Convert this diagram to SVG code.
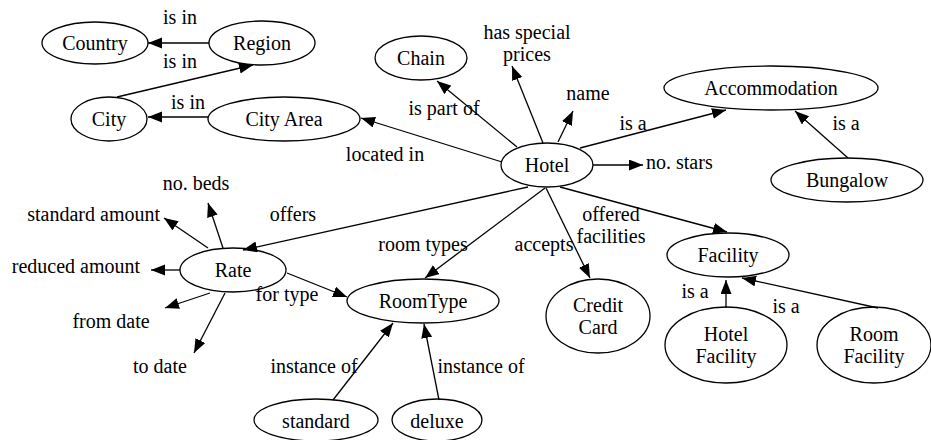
<svg xmlns="http://www.w3.org/2000/svg" width="931" height="440" viewBox="0 0 931 440" font-family="'Liberation Serif', 'Times New Roman', 'DejaVu Serif', serif">
<style>
text{font-family:'Liberation Serif','Times New Roman','DejaVu Serif',serif;font-size:20px;fill:#000}
.n ellipse{fill:none;stroke:#000;stroke-width:1.3}
.n text{text-anchor:middle}
.e line{stroke:#000;stroke-width:1.3;marker-end:url(#ah)}
.l{text-anchor:middle}
</style>
<defs>
<marker id="ah" markerUnits="userSpaceOnUse" markerWidth="15" markerHeight="12" refX="14" refY="5.5" orient="auto">
<path d="M0,0 L14,5.5 L0,11 z" fill="#000"/>
</marker>
</defs>
<rect width="931" height="440" fill="#fff"/>
<g id="edges" class="e">
<line x1="209" y1="43" x2="148" y2="43"/>
<line x1="117" y1="97" x2="253" y2="65"/>
<line x1="208" y1="117" x2="148" y2="117"/>
<line x1="502" y1="162" x2="361" y2="118"/>
<line x1="517" y1="147" x2="437" y2="81"/>
<line x1="543" y1="143" x2="512" y2="66"/>
<line x1="558" y1="142" x2="573" y2="111"/>
<line x1="580" y1="148" x2="726" y2="110"/>
<line x1="593" y1="165" x2="643" y2="165"/>
<line x1="848" y1="158" x2="795" y2="111"/>
<line x1="528" y1="187" x2="243" y2="250"/>
<line x1="545" y1="188" x2="425" y2="278"/>
<line x1="546" y1="188" x2="590" y2="278"/>
<line x1="560" y1="187" x2="727" y2="232"/>
<line x1="223" y1="248" x2="208" y2="203"/>
<line x1="208" y1="248" x2="164" y2="218"/>
<line x1="180" y1="270" x2="151" y2="270"/>
<line x1="210" y1="293" x2="165" y2="308"/>
<line x1="225" y1="293" x2="194" y2="353"/>
<line x1="287" y1="273" x2="347" y2="297"/>
<line x1="333" y1="400" x2="393" y2="323"/>
<line x1="439" y1="400" x2="424" y2="324"/>
<line x1="726" y1="308" x2="726" y2="280"/>
<line x1="878" y1="308" x2="742" y2="278"/>
</g>
<g id="edge-labels">
<text class="l" x="180" y="24">is in</text>
<text class="l" x="180" y="68">is in</text>
<text class="l" x="188" y="109">is in</text>
<text class="l" x="385" y="161">located in</text>
<text class="l" x="444" y="115">is part of</text>
<text class="l" x="527" y="39">has special</text>
<text class="l" x="527" y="61">prices</text>
<text class="l" x="588" y="100">name</text>
<text class="l" x="633" y="130">is a</text>
<text x="646" y="169">no. stars</text>
<text class="l" x="846" y="130">is a</text>
<text class="l" x="293" y="221">offers</text>
<text class="l" x="196" y="190">no. beds</text>
<text x="160" y="221" text-anchor="end">standard amount</text>
<text x="140" y="273" text-anchor="end">reduced amount</text>
<text class="l" x="111" y="328">from date</text>
<text class="l" x="160" y="373">to date</text>
<text class="l" x="287" y="301">for type</text>
<text class="l" x="423" y="251">room types</text>
<text class="l" x="544" y="251">accepts</text>
<text class="l" x="611" y="221">offered</text>
<text class="l" x="611" y="243">facilities</text>
<text class="l" x="314" y="373">instance of</text>
<text class="l" x="481" y="373">instance of</text>
<text class="l" x="695" y="298">is a</text>
<text class="l" x="786" y="313">is a</text>
</g>
<g id="country" class="n"><ellipse cx="95" cy="43" rx="53" ry="21"/><text x="95" y="50">Country</text></g>
<g id="region" class="n"><ellipse cx="262" cy="43" rx="53" ry="22"/><text x="262" y="50">Region</text></g>
<g id="city" class="n"><ellipse cx="109" cy="119" rx="38" ry="22"/><text x="109" y="126">City</text></g>
<g id="cityarea" class="n"><ellipse cx="284" cy="119" rx="76" ry="22"/><text x="284" y="126">City Area</text></g>
<g id="chain" class="n"><ellipse cx="421" cy="58" rx="46" ry="22"/><text x="421" y="65">Chain</text></g>
<g id="hotel" class="n"><ellipse cx="547" cy="165" rx="46" ry="22"/><text x="547" y="172">Hotel</text></g>
<g id="accommodation" class="n"><ellipse cx="771" cy="88" rx="107" ry="22"/><text x="771" y="95">Accommodation</text></g>
<g id="bungalow" class="n"><ellipse cx="847" cy="180" rx="76" ry="22"/><text x="847" y="187">Bungalow</text></g>
<g id="rate" class="n"><ellipse cx="233" cy="270" rx="53" ry="22"/><text x="233" y="277">Rate</text></g>
<g id="roomtype" class="n"><ellipse cx="423" cy="301" rx="76" ry="22"/><text x="423" y="308">RoomType</text></g>
<g id="creditcard" class="n"><ellipse cx="598" cy="316" rx="52" ry="37"/><text x="598" y="312">Credit</text><text x="598" y="334">Card</text></g>
<g id="facility" class="n"><ellipse cx="728" cy="255" rx="61" ry="22"/><text x="728" y="262">Facility</text></g>
<g id="hotelfacility" class="n"><ellipse cx="726" cy="345" rx="61" ry="38"/><text x="726" y="341">Hotel</text><text x="726" y="363">Facility</text></g>
<g id="roomfacility" class="n"><ellipse cx="874" cy="345" rx="57" ry="38"/><text x="874" y="341">Room</text><text x="874" y="363">Facility</text></g>
<g id="standard" class="n"><ellipse cx="316" cy="420" rx="62" ry="21"/><text x="316" y="428">standard</text></g>
<g id="deluxe" class="n"><ellipse cx="437" cy="420" rx="45" ry="21"/><text x="437" y="428">deluxe</text></g>
</svg>
